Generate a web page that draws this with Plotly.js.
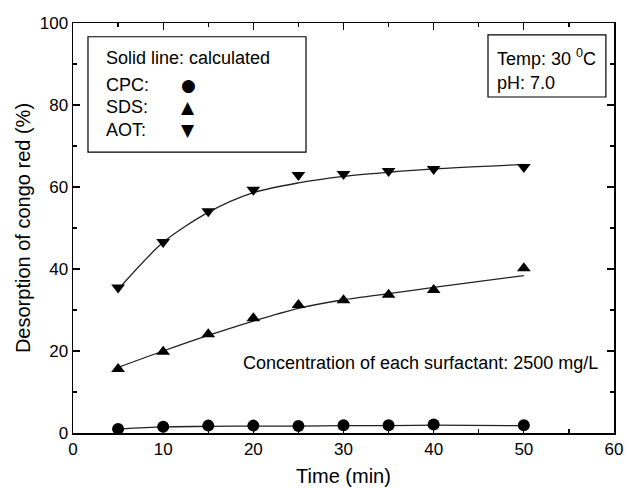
<!DOCTYPE html>
<html><head><meta charset="utf-8">
<script src="https://cdn.plot.ly/plotly-3.0.1.min.js"></script>
<style>body{margin:0;padding:0;background:#fff}#chart{width:629px;height:488px}</style>
</head><body><div id="chart"></div>
<script>
// Time points (min)
const timeMin = [5, 10, 15, 20, 25, 30, 35, 40, 50];
// Experimental desorption (%)
const cpcData = [1.0, 1.5, 1.8, 1.8, 1.7, 1.9, 1.9, 2.1, 1.9];
const sdsData = [15.6, 19.8, 24.1, 28.0, 31.2, 32.4, 33.7, 34.9, 40.2];
const aotData = [35.5, 46.6, 54.1, 59.3, 62.9, 63.2, 63.9, 64.4, 64.9];
// Calculated (solid line) values
const cpcCalc = [1.0, 1.5, 1.6, 1.7, 1.7, 1.8, 1.8, 1.9, 1.8];
const sdsCalc = [16.0, 20.0, 23.8, 27.3, 30.4, 32.5, 34.0, 35.5, 38.4];
const aotCalc = [35.0, 46.5, 53.8, 58.6, 61.0, 62.6, 63.6, 64.4, 65.5];

const FONT = 'Liberation Sans, Arial, sans-serif';
const lineStyle = {color: '#222', width: 1.3, shape: 'spline', smoothing: 0.8};
const mk = (sym) => ({symbol: sym, size: 12, color: '#000'});

const traces = [
  {x: timeMin, y: cpcCalc, mode: 'lines', line: lineStyle, showlegend: false},
  {x: timeMin, y: sdsCalc, mode: 'lines', line: lineStyle, showlegend: false},
  {x: timeMin, y: aotCalc, mode: 'lines', line: lineStyle, showlegend: false},
  {x: timeMin, y: cpcData, mode: 'markers', marker: mk('circle'), name: 'CPC', showlegend: false},
  {x: timeMin, y: sdsData, mode: 'markers', marker: mk('triangle-up'), name: 'SDS', showlegend: false},
  {x: timeMin, y: aotData, mode: 'markers', marker: mk('triangle-down'), name: 'AOT', showlegend: false}
];

const axisCommon = {
  showline: true, linecolor: '#000', linewidth: 1.5, mirror: 'allticks',
  ticks: 'inside', ticklen: 7, tickwidth: 1.3, tickcolor: '#000',
  showgrid: false, zeroline: false,
  tickfont: {family: FONT, size: 17, color: '#000'}
};

const f = {family: FONT, size: 18, color: '#000'};
const sym = {family: 'DejaVu Sans', size: 17, color: '#000'};

const layout = {
  width: 629, height: 488,
  margin: {l: 73, r: 15, t: 23, b: 55},
  paper_bgcolor: '#fff', plot_bgcolor: '#fff',
  showlegend: false,
  xaxis: Object.assign({}, axisCommon, {
    range: [0, 60], dtick: 10, tick0: 0,
    minor: {dtick: 5, ticks: 'inside', ticklen: 4, tickwidth: 1.2, tickcolor: '#000'},
    title: {text: 'Time (min)', font: {family: FONT, size: 20, color: '#000'}, standoff: 11}
  }),
  yaxis: Object.assign({}, axisCommon, {
    range: [0, 100], dtick: 20, tick0: 0,
    minor: {dtick: 10, ticks: 'inside', ticklen: 4, tickwidth: 1.2, tickcolor: '#000'},
    title: {text: 'Desorption of congo red (%)', font: {family: FONT, size: 20, color: '#000'}, standoff: 3}
  }),
  shapes: [
    {type: 'rect', xref: 'paper', yref: 'paper', x0: 0.0277, x1: 0.4307, y0: 0.685, y1: 0.9665, line: {color: '#000', width: 1.2}},
    {type: 'rect', xref: 'paper', yref: 'paper', x0: 0.7671, x1: 0.985, y0: 0.8195, y1: 0.9712, line: {color: '#000', width: 1.2}}
  ],
  annotations: [
    {xref: 'paper', yref: 'paper', x: 0.0573, y: 0.9146, xanchor: 'left', yanchor: 'middle', text: 'Solid line: calculated', showarrow: false, font: f},
    {xref: 'paper', yref: 'paper', x: 0.0573, y: 0.849, xanchor: 'left', yanchor: 'middle', text: 'CPC:', showarrow: false, font: f},
    {xref: 'paper', yref: 'paper', x: 0.0573, y: 0.795, xanchor: 'left', yanchor: 'middle', text: 'SDS:', showarrow: false, font: f},
    {xref: 'paper', yref: 'paper', x: 0.0573, y: 0.739, xanchor: 'left', yanchor: 'middle', text: 'AOT:', showarrow: false, font: f},
    {xref: 'paper', yref: 'paper', x: 0.2126, y: 0.849, xanchor: 'center', yanchor: 'middle', text: '●', showarrow: false, font: sym},
    {xref: 'paper', yref: 'paper', x: 0.2126, y: 0.795, xanchor: 'center', yanchor: 'middle', text: '▲', showarrow: false, font: sym},
    {xref: 'paper', yref: 'paper', x: 0.2126, y: 0.739, xanchor: 'center', yanchor: 'middle', text: '▼', showarrow: false, font: sym},
    {xref: 'paper', yref: 'paper', x: 0.7800, y: 0.917, xanchor: 'left', yanchor: 'middle', text: 'Temp: 30 <sup>0</sup>C', showarrow: false, font: f},
    {xref: 'paper', yref: 'paper', x: 0.7800, y: 0.854, xanchor: 'left', yanchor: 'middle', text: 'pH: 7.0', showarrow: false, font: f},
    {xref: 'paper', yref: 'paper', x: 0.9741, y: 0.171, xanchor: 'right', yanchor: 'middle', text: 'Concentration of each surfactant: 2500 mg/L', showarrow: false, font: f}
  ]
};

Plotly.newPlot('chart', traces, layout, {displayModeBar: false, staticPlot: true});
</script>
</body></html>
